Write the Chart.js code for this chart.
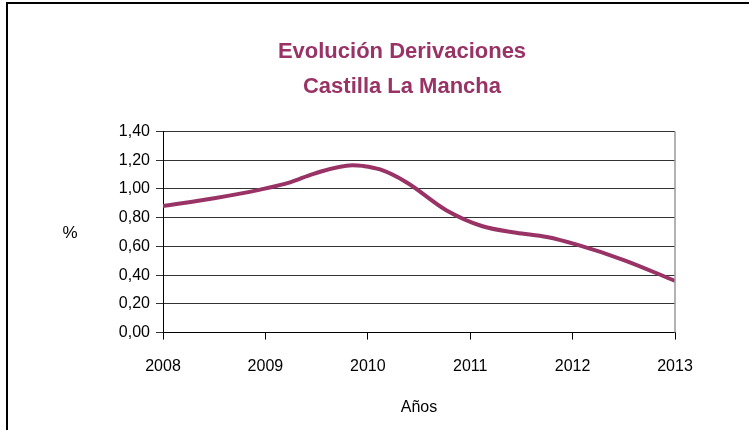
<!DOCTYPE html>
<html>
<head>
<meta charset="utf-8">
<script src="https://cdn.jsdelivr.net/npm/chart.js@4"></script>
<style>
  body { margin: 0; background: #fff; overflow: hidden; }
  .frame { position: absolute; left: 6px; top: 2px; width: 800px; height: 500px;
           border-left: 2px solid #000; border-top: 2px solid #000; }
  .chart { position: absolute; left: 0; top: 0; width: 749px; height: 430px; }
</style>
</head>
<body>
<div class="frame"></div>
<div class="chart"><canvas id="chart"></canvas></div>
<script>
const years = [2008.0, 2008.5, 2008.95, 2009.24, 2009.47, 2009.85, 2009.95, 2010.12,
               2010.38, 2010.77, 2011.12, 2011.45, 2011.75, 2012.05, 2012.5, 2013.0];
const derivaciones = [0.88, 0.935, 0.995, 1.045, 1.105, 1.165, 1.16, 1.135,
                      1.045, 0.85, 0.74, 0.695, 0.665, 0.61, 0.505, 0.36];
const titleLines = ["Evolución Derivaciones", "Castilla La Mancha"];
const yLabel = "%";
const xLabel = "Años";

const FONT = "'Liberation Sans', Arial, sans-serif";
const PLUM = "#993366";

const extras = {
  id: "extras",
  afterDraw(chart) {
    const a = chart.chartArea;
    const ctx = chart.ctx;
    ctx.save();
    ctx.strokeStyle = "#999";
    ctx.lineWidth = 1.5;
    ctx.beginPath();
    ctx.moveTo(a.right, a.top);
    ctx.lineTo(a.right, a.bottom);
    ctx.stroke();
    ctx.fillStyle = "#000";
    ctx.font = "17px " + FONT;
    ctx.textAlign = "center";
    ctx.textBaseline = "middle";
    ctx.fillText(yLabel, 70, (a.top + a.bottom) / 2 + 1);
    ctx.restore();
  }
};

new Chart(document.getElementById("chart"), {
  type: "line",
  data: {
    datasets: [{
      data: years.map((x, i) => ({ x: x, y: derivaciones[i] })),
      borderColor: PLUM,
      borderWidth: 4,
      pointRadius: 0,
      tension: 0.4,
      cubicInterpolationMode: "monotone"
    }]
  },
  options: {
    responsive: true,
    maintainAspectRatio: false,
    animation: false,
    layout: { padding: { left: 55, right: 0, top: 12, bottom: 13 } },
    plugins: {
      legend: { display: false },
      tooltip: { enabled: false },
      title: {
        display: true,
        text: titleLines,
        color: PLUM,
        font: { family: FONT, size: 22, weight: "bold", lineHeight: 1.6 },
        padding: { top: 22, bottom: 27 }
      }
    },
    scales: {
      x: {
        type: "linear",
        min: 2008,
        max: 2013,
        ticks: {
          stepSize: 1,
          color: "#000",
          font: { family: FONT, size: 16 },
          padding: 17,
          maxRotation: 0,
          callback: v => String(v)
        },
        grid: { drawOnChartArea: false, color: "#000", tickLength: 7 },
        border: { color: "#000", width: 1 },
        title: {
          display: true,
          text: xLabel,
          color: "#000",
          font: { family: FONT, size: 16 },
          padding: { top: 5, bottom: 0 }
        },
        afterFit(scale) { scale.paddingRight = 74; }
      },
      y: {
        min: 0,
        max: 1.4,
        ticks: {
          stepSize: 0.2,
          color: "#000",
          font: { family: FONT, size: 16 },
          padding: 6,
          callback: v => v.toFixed(2).replace(".", ",")
        },
        grid: { color: "#333", tickLength: 7 },
        border: { color: "#000", width: 1 },
        afterFit(scale) { scale.width = 108; }
      }
    }
  },
  plugins: [extras]
});
</script>
</body>
</html>
